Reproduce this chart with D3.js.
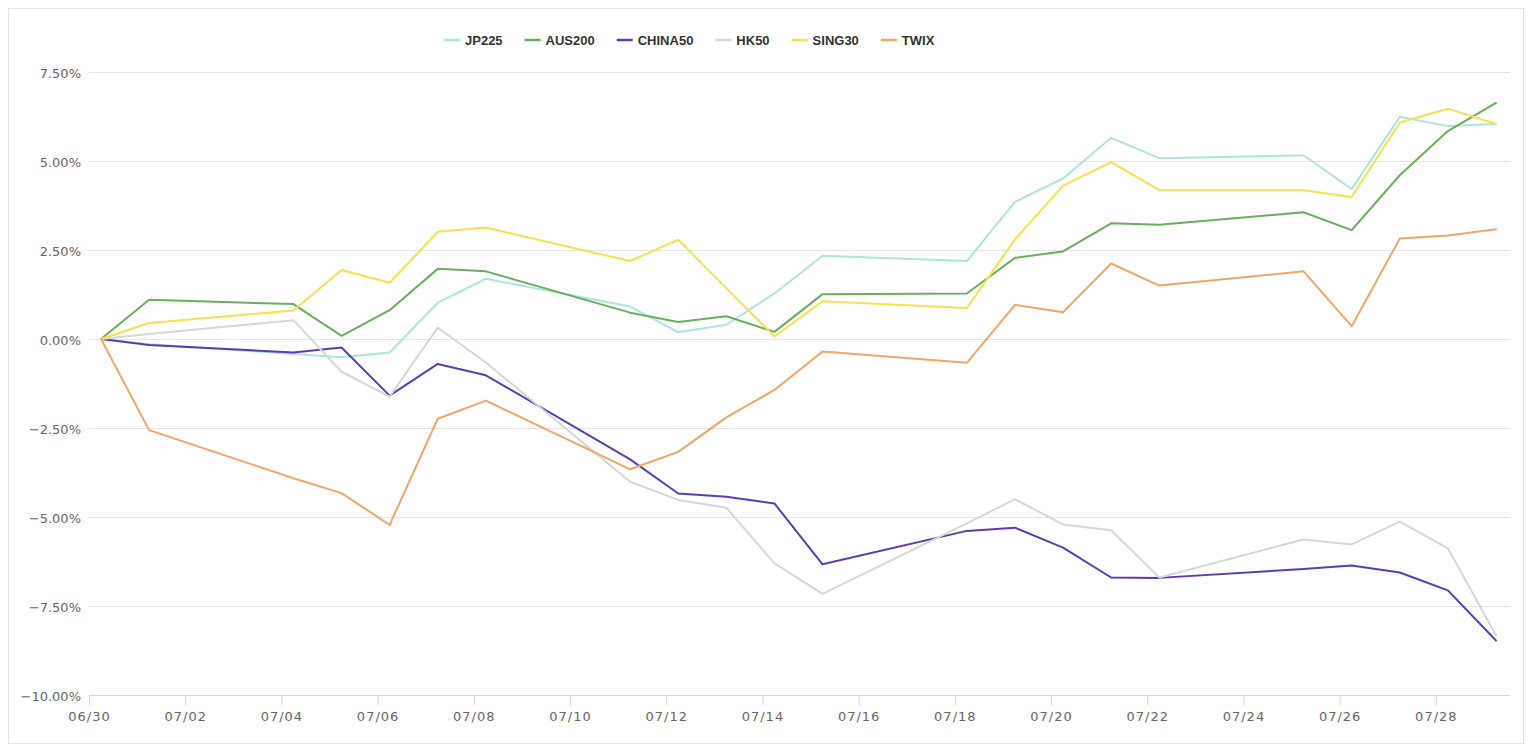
<!DOCTYPE html>
<html>
<head>
<meta charset="utf-8">
<script src="https://cdn.jsdelivr.net/npm/d3@7/dist/d3.min.js"></script>
<style>
  html, body { margin: 0; padding: 0; background: #ffffff; }
  svg { display: block; }
</style>
</head>
<body>
<svg id="chart" width="1530" height="752"></svg>
<script>
// ---------- data ----------
const dates = ["2022-06-30T06:00","2022-07-01T06:00","2022-07-04T06:00","2022-07-05T06:00","2022-07-06T06:00",
  "2022-07-07T06:00","2022-07-08T06:00","2022-07-11T06:00","2022-07-12T06:00","2022-07-13T06:00",
  "2022-07-14T06:00","2022-07-15T06:00","2022-07-18T06:00","2022-07-19T06:00","2022-07-20T06:00",
  "2022-07-21T06:00","2022-07-22T06:00","2022-07-25T06:00","2022-07-26T06:00","2022-07-27T06:00",
  "2022-07-28T06:00","2022-07-29T06:00"];

const seriesNames = ["JP225", "AUS200", "CHINA50", "HK50", "SING30", "TWIX"];
const seriesColors = ["#aee5dd", "#68b05d", "#5c3cb4", "#d7d7d7", "#fadf4f", "#f1a66a"];

const jp225   = [0, -0.15, -0.42, -0.51, -0.38, 1.02, 1.69, 0.91, 0.19, 0.40, 1.28, 2.34, 2.19, 3.85, 4.51, 5.65, 5.08, 5.16, 4.21, 6.24, 5.98, 6.04];
const aus200  = [0, 1.10, 0.98, 0.09, 0.81, 1.97, 1.90, 0.74, 0.48, 0.64, 0.20, 1.26, 1.28, 2.28, 2.46, 3.25, 3.21, 3.56, 3.06, 4.60, 5.84, 6.63];
const china50 = [0, -0.17, -0.38, -0.24, -1.59, -0.70, -1.02, -3.38, -4.34, -4.43, -4.62, -6.33, -5.39, -5.30, -5.86, -6.70, -6.71, -6.46, -6.36, -6.56, -7.06, -8.47];
const hk50    = [0, 0.14, 0.53, -0.92, -1.62, 0.32, -0.66, -4.01, -4.52, -4.74, -6.30, -7.16, -5.18, -4.50, -5.21, -5.37, -6.70, -5.63, -5.77, -5.13, -5.88, -8.32];
const sing30  = [0, 0.45, 0.80, 1.94, 1.58, 3.01, 3.13, 2.19, 2.79, 1.43, 0.07, 1.06, 0.87, 2.80, 4.31, 4.97, 4.18, 4.18, 3.99, 6.08, 6.47, 6.04];
const twix    = [0, -2.56, -3.91, -4.33, -5.22, -2.24, -1.73, -3.66, -3.17, -2.20, -1.43, -0.35, -0.67, 0.96, 0.75, 2.12, 1.50, 1.90, 0.36, 2.82, 2.91, 3.08];

const xTickLabels = ["06/30","07/02","07/04","07/06","07/08","07/10","07/12","07/14","07/16","07/18","07/20","07/22","07/24","07/26","07/28"];
const yTicks = [-10, -7.5, -5, -2.5, 0, 2.5, 5, 7.5];
const xDomain = ["2022-06-30T00:00", "2022-07-29T13:00"];

// ---------- layout ----------
const svg = d3.select("#chart");
const W = 1530, H = 752;
const plot = { left: 89, right: 1510, top: 72, bottom: 695 };
const parse = d3.timeParse("%Y-%m-%dT%H:%M");
const parseTick = s => d3.timeParse("%Y/%m/%d")("2022/" + s);

const allValues = [jp225, aus200, china50, hk50, sing30, twix];
const series = seriesNames.map((name, i) => ({
  name, color: seriesColors[i],
  points: dates.map((d, j) => ({ date: parse(d), value: allValues[i][j] }))
}));

const x = d3.scaleTime().domain(xDomain.map(parse)).range([plot.left, plot.right]);
const y = d3.scaleLinear().domain([d3.min(yTicks), d3.max(yTicks)]).range([plot.bottom, plot.top]);

// chart border
svg.append("rect")
  .attr("x", 8.5).attr("y", 8.5).attr("width", 1515).attr("height", 735)
  .attr("fill", "#ffffff").attr("stroke", "#e1e7e9").attr("stroke-width", 1);

// grid lines + y labels
const yAxis = d3.axisLeft(y).tickValues(yTicks).tickSize(0).tickPadding(0)
  .tickFormat(v => d3.format(".2f")(v) + "%");
const yG = svg.append("g").attr("transform", `translate(${plot.left},0)`).call(yAxis);
yG.select(".domain").remove();
yG.selectAll(".tick text")
  .attr("x", -8).attr("dy", "0.4em")
  .attr("fill", "#666666")
  .style("font-family", "'DejaVu Sans', sans-serif").style("font-size", "13px");

svg.append("g").selectAll("line").data(yTicks.filter(v => v !== d3.min(yTicks))).join("line")
  .attr("x1", plot.left).attr("x2", plot.right)
  .attr("y1", d => Math.round(y(d)) + 0.5).attr("y2", d => Math.round(y(d)) + 0.5)
  .attr("stroke", "#e6e6e6").attr("stroke-width", 1);

// x axis
const xAxis = d3.axisBottom(x).tickValues(xTickLabels.map(parseTick)).tickSize(10).tickPadding(6)
  .tickFormat(d3.timeFormat("%m/%d"));
const xG = svg.append("g").attr("transform", `translate(0,${plot.bottom + 0.5})`).call(xAxis);
xG.select(".domain").attr("stroke", "#ccd6eb").attr("d", `M${plot.left},0H${plot.right}`);
xG.selectAll(".tick line").attr("stroke", "#ccd6eb");
xG.selectAll(".tick text")
  .attr("fill", "#666666")
  .style("font-family", "'DejaVu Sans', sans-serif").style("font-size", "13px")
  .style("letter-spacing", "1px");

// lines
const line = d3.line().x(d => x(d.date)).y(d => y(d.value));
svg.append("g").selectAll("path").data(series).join("path")
  .attr("d", d => line(d.points))
  .attr("fill", "none")
  .attr("stroke", d => d.color)
  .attr("stroke-width", 2)
  .attr("stroke-linejoin", "round")
  .attr("stroke-linecap", "round");

// legend
const legend = svg.append("g");
let lx = 444;
series.forEach(s => {
  const g = legend.append("g");
  g.append("line").attr("x1", lx).attr("x2", lx + 16).attr("y1", 40).attr("y2", 40)
    .attr("stroke", s.color).attr("stroke-width", 2.5);
  const t = g.append("text").attr("x", lx + 21).attr("y", 45)
    .attr("fill", "#333333")
    .style("font-family", "'Liberation Sans', Arial, sans-serif")
    .style("font-size", "13px").style("font-weight", "bold")
    .text(s.name);
  const w = t.node().getComputedTextLength();
  lx += 21 + w + 22;
});
</script>
</body>
</html>
